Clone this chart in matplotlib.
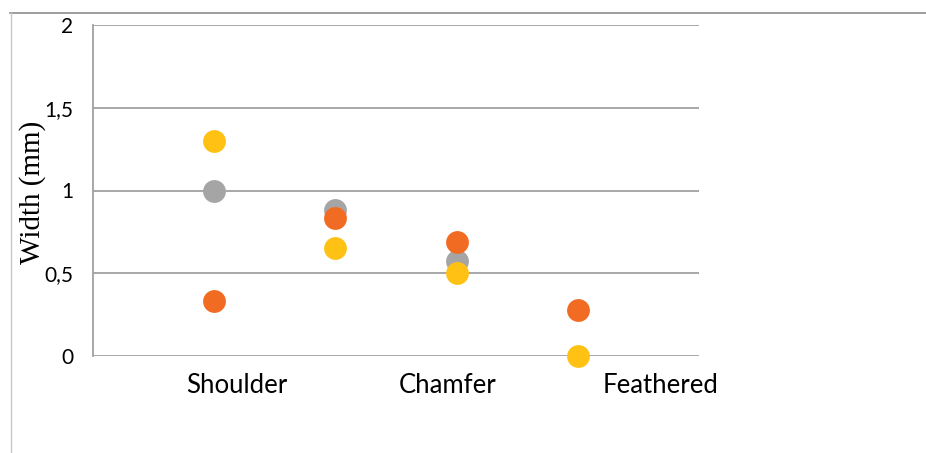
import matplotlib
matplotlib.use("Agg")
import matplotlib.pyplot as plt
from matplotlib.lines import Line2D

# data (gray point at Feathered is hidden, left out)
positions = [1, 2, 3, 4]
gray_vals = [1.0, 0.88, 0.575, float("nan")]
orange_vals = [0.33, 0.835, 0.69, 0.275]
yellow_vals = [1.3, 0.655, 0.5, 0.0]

categories = ["Shoulder", "Chamfer", "Feathered"]
category_pos = [1.19, 2.93, 4.68]

y_ticks = [0, 0.5, 1, 1.5, 2]
y_ticklabels = ["0", "0,5", "1", "1,5", "2"]

fig = plt.figure(figsize=(9.26, 4.53), dpi=100)
ax = fig.add_axes([93 / 926, 97 / 453, 606 / 926, 331 / 453])

size = 270
ax.scatter(positions, gray_vals, s=size, color="#A5A5A5", zorder=3, linewidths=0, clip_on=False)
ax.scatter(positions, orange_vals, s=size, color="#F26B23", zorder=4, linewidths=0, clip_on=False)
ax.scatter(positions, yellow_vals, s=size, color="#FFC114", zorder=5, linewidths=0, clip_on=False)

ax.set_xlim(0, 5)
ax.set_ylim(0, 2)

ax.set_yticks(y_ticks)
ax.set_yticklabels(y_ticklabels, fontsize=15, family="Lato")
ax.set_xticks(category_pos)
ax.set_xticklabels(categories, fontsize=18.5, family="Lato")
ax.tick_params(axis="both", length=0)
ax.tick_params(axis="y", pad=14)
ax.tick_params(axis="x", pad=12)

ax.grid(axis="y", color="#A0A0A0", linewidth=1.3, zorder=0)
ax.set_axisbelow(True)
for side in ["top", "right", "bottom"]:
    ax.spines[side].set_visible(False)
ax.spines["left"].set_color("#A0A0A0")
ax.spines["left"].set_linewidth(1.3)

ax.set_ylabel("Width (mm)", fontsize=21, family="Liberation Serif")
ax.yaxis.set_label_coords(-0.077, 0.495)

# frame lines around the chart area
fig.add_artist(Line2D([10 / 926, 1], [1 - 12.5 / 453] * 2, color="#8C8C8C", linewidth=1.2))
fig.add_artist(Line2D([10.5 / 926] * 2, [0, 1 - 12.5 / 453], color="#C8C8C8", linewidth=1.0))

fig.savefig("out.png", dpi=100)
